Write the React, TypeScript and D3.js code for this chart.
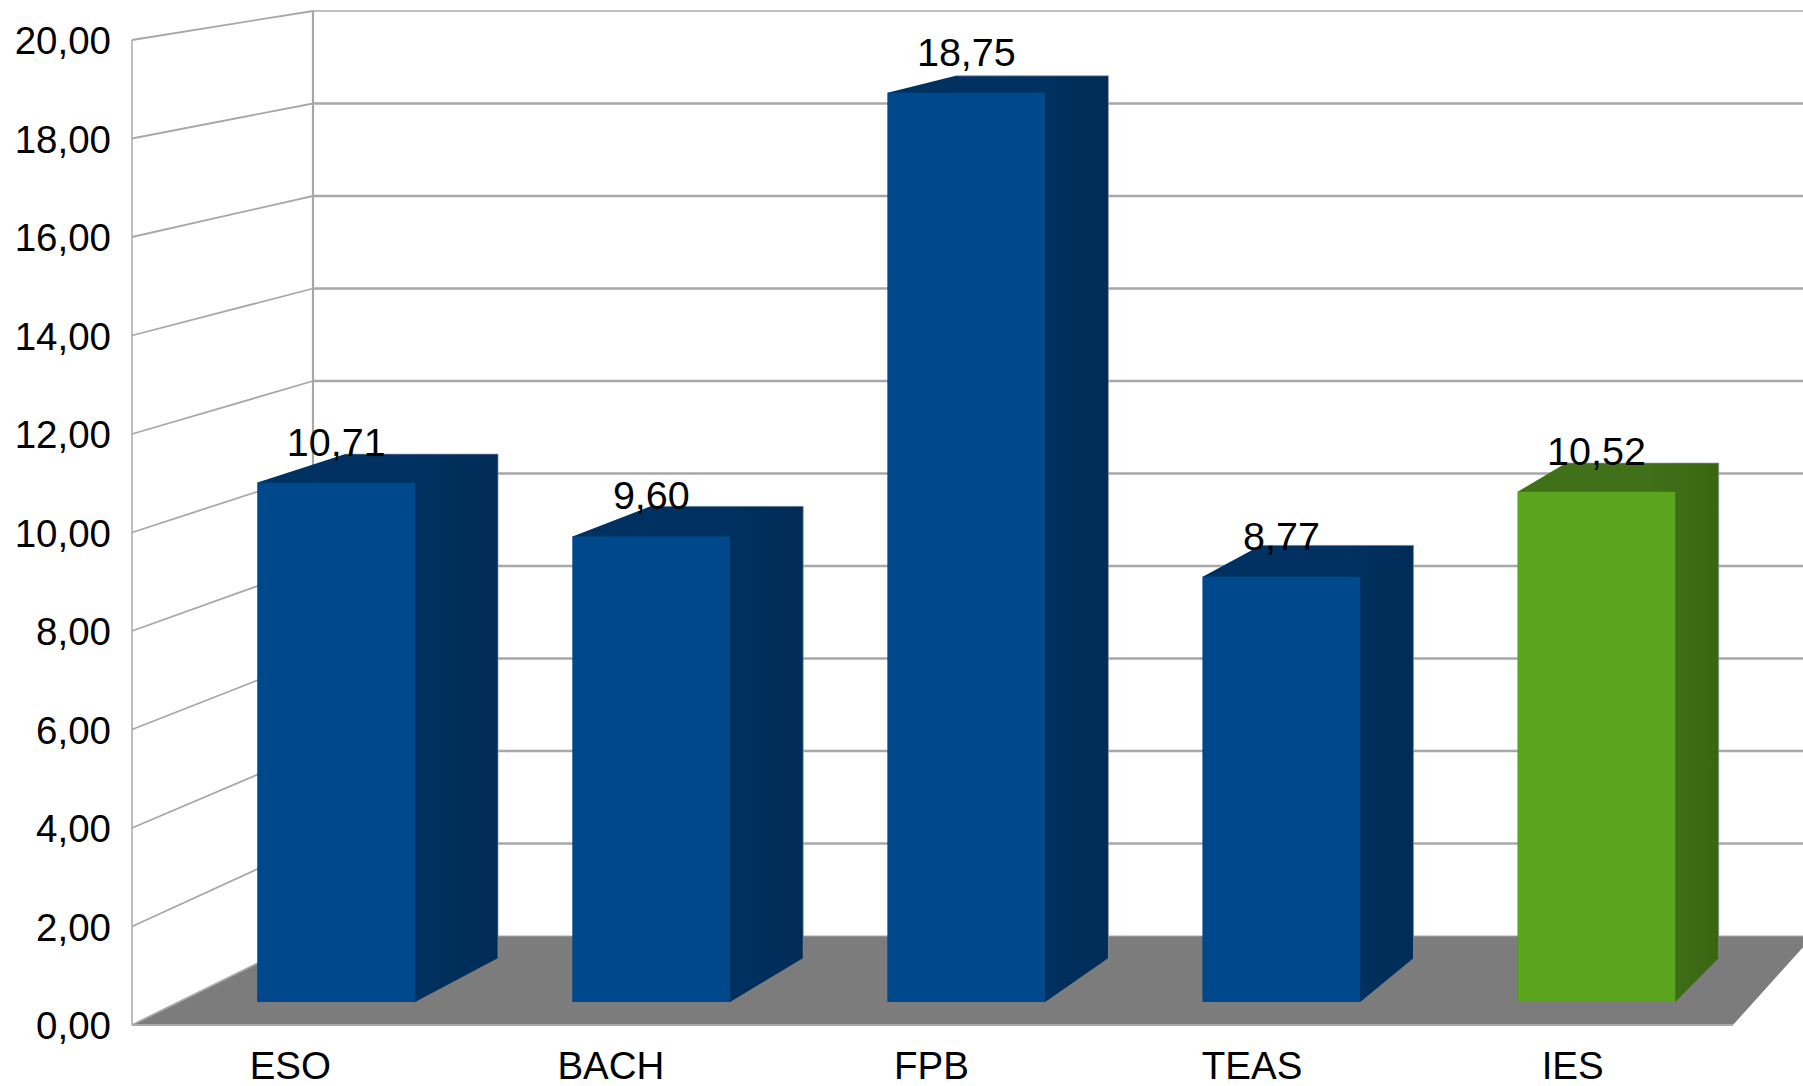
import React from "react";
import * as d3 from "d3";

const categories = ["ESO", "BACH", "FPB", "TEAS", "IES"];
const values = [10.71, 9.6, 18.75, 8.77, 10.52];
const valueLabels = ["10,71", "9,60", "18,75", "8,77", "10,52"];
const yTicks = [0, 2, 4, 6, 8, 10, 12, 14, 16, 18, 20];
const faceColors = ["#00488c", "#00488c", "#00488c", "#00488c", "#5ba41d"];
const sideStart = ["#003160", "#003160", "#003160", "#003160", "#40701a"];
const sideEnd = ["#002c57", "#002c57", "#002c57", "#002c57", "#3a6612"];

const W = 1803;
const H = 1086;
const FONT = "'Liberation Sans', Arial, sans-serif";
const GRID = "#a8a8a8";
const EDGE = "#8c99a6";
const FS = 38.5;
const FS_VALUE = 39.5;

// Three planes of the pseudo-3D box, each with its own linear scale.
const yWall = d3.scaleLinear().domain([0, 20]).range([1025, 40]);
const yBack = d3.scaleLinear().domain([0, 20]).range([936, 11]);
const yBarFront = d3.scaleLinear().domain([0, 20]).range([1002, 32]);
const yBarBack = d3.scaleLinear().domain([0, 20]).range([958, 17]);
const xFront = d3.scaleBand().domain(categories).range([178.75, 1754]).paddingInner(0.5).paddingOuter(0.25);
const xAxis = d3.scaleBand().domain(categories).range([130, 1733]);
const xDepth = d3.scaleLinear().domain([415, 1675.5]).range([498, 1719]);

const pts = (p: number[][]) => p.map((d) => d.join(",")).join(" ");

export default function App() {
  return (
    <svg
      width={W}
      height={H}
      viewBox={`0 0 ${W} ${H}`}
      style={{ position: "absolute", left: 0, top: 0, display: "block", background: "#fff" }}
    >
      <defs>
        {categories.map((c, i) => (
          <linearGradient key={c} id={`side${i}`} x1="0" x2="1" y1="0" y2="0">
            <stop offset="0" stopColor={sideStart[i]} />
            <stop offset="0.65" stopColor={sideStart[i]} />
            <stop offset="1" stopColor={sideEnd[i]} />
          </linearGradient>
        ))}
      </defs>

      {/* floor */}
      <polygon
        points={pts([
          [132, yWall(0)],
          [313, yBack(0)],
          [1813, yBack(0)],
          [1733, yWall(0)],
        ])}
        fill="#7c7c7c"
      />
      <line x1={313} x2={W} y1={yBack(0)} y2={yBack(0)} stroke={GRID} strokeWidth={1} />
      <line x1={132} x2={1733} y1={yWall(0)} y2={yWall(0)} stroke={GRID} strokeWidth={2} />

      {/* walls and grid */}
      <line x1={132} x2={132} y1={yWall(20)} y2={yWall(0)} stroke={GRID} strokeWidth={1.5} />
      <line x1={313} x2={313} y1={yBack(20)} y2={yBack(0)} stroke={GRID} strokeWidth={2.2} />
      {yTicks.map((t) => (
        <g key={t} stroke={GRID} fill="none">
          <line x1={132} x2={313} y1={yWall(t)} y2={yBack(t)} strokeWidth={1.8} />
          {t > 0 && <line x1={313} x2={W} y1={yBack(t)} y2={yBack(t)} strokeWidth={t === 20 ? 1.5 : 2.4} />}
        </g>
      ))}

      {/* bars */}
      {categories.map((c, i) => {
        const v = values[i];
        const x0 = xFront(c)!;
        const x1 = x0 + xFront.bandwidth();
        const bx0 = xDepth(x0);
        const bx1 = xDepth(x1);
        const top = yBarFront(v);
        const backTop = yBarBack(v);
        return (
          <g key={c}>
            <polygon
              points={pts([
                [x0, top],
                [bx0, backTop],
                [bx1, backTop],
                [bx1, yBarBack(0)],
                [x1, yBarFront(0)],
                [x0, yBarFront(0)],
              ])}
              fill={`url(#side${i})`}
            />
            <polyline
              points={pts([
                [bx0, backTop],
                [bx1, backTop],
                [bx1, yBarBack(0)],
              ])}
              fill="none"
              stroke={EDGE}
              strokeWidth={1}
              opacity={0.7}
            />
            <rect x={x0} y={top} width={x1 - x0} height={yBarFront(0) - top} fill={faceColors[i]} />
          </g>
        );
      })}

      {/* value labels */}
      {categories.map((c, i) => (
        <text
          key={c}
          x={xFront(c)! + xFront.bandwidth() / 2}
          y={yBarFront(values[i]) - 27}
          textAnchor="middle"
          fontFamily={FONT}
          fontSize={FS_VALUE}
          fill="#000"
        >
          {valueLabels[i]}
        </text>
      ))}

      {/* y axis labels */}
      {yTicks.map((t) => (
        <text
          key={t}
          x={111}
          y={yWall(t) + 14}
          textAnchor="end"
          fontFamily={FONT}
          fontSize={FS}
          fill="#000"
        >
          {d3.format(".2f")(t).replace(".", ",")}
        </text>
      ))}

      {/* x axis labels */}
      {categories.map((c) => (
        <text
          key={c}
          x={xAxis(c)! + xAxis.bandwidth() / 2}
          y={1079}
          textAnchor="middle"
          fontFamily={FONT}
          fontSize={FS}
          fill="#000"
        >
          {c}
        </text>
      ))}
    </svg>
  );
}
